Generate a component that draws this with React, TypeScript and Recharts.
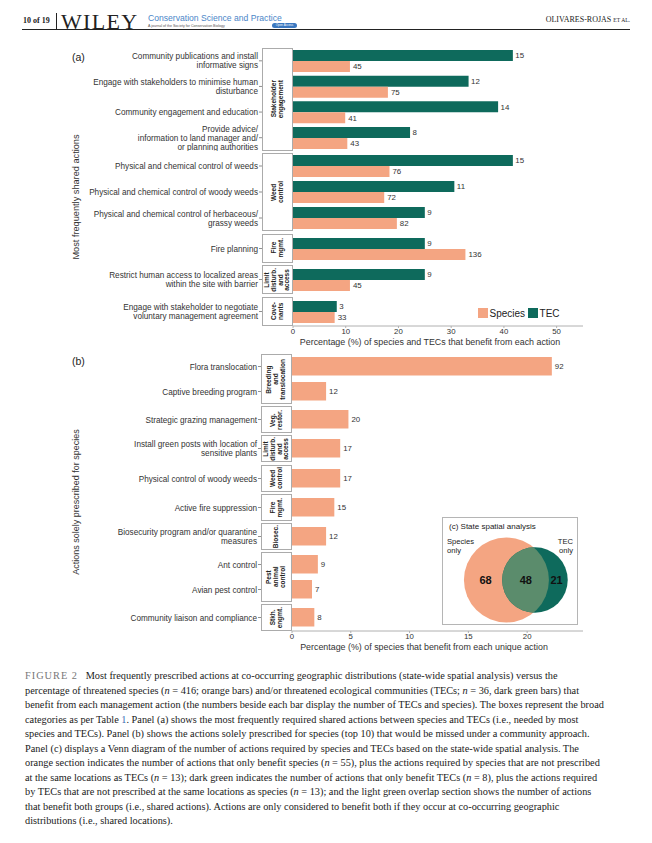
import React from 'react';
import { BarChart, Bar, XAxis, YAxis, LabelList, Legend, ScatterChart, Scatter, ZAxis } from 'recharts';

const SPECIES = '#F4A582';
const TEC = '#0E6A5C';
const OVERLAP = '#5B8C6C';
const SANS = '"Liberation Sans", Arial, sans-serif';
const SERIF = '"Liberation Serif", "Times New Roman", serif';

// (a) most frequently shared actions
const sharedActions = [
  'Community publications and install\ninformative signs',
  'Engage with stakeholders to minimise human\ndisturbance',
  'Community engagement and education',
  'Provide advice/\ninformation to land manager and/\nor planning authorities',
  'Physical and chemical control of weeds',
  'Physical and chemical control of woody weeds',
  'Physical and chemical control of herbaceous/\ngrassy weeds',
  'Fire planning',
  'Restrict human access to localized areas\nwithin the site with barrier',
  'Engage with stakeholder to negotiate\nvoluntary management agreement',
];
const sharedGroup = [0, 0, 0, 0, 1, 1, 1, 2, 3, 4];
const sharedFacets = ['Stakeholder\nengagement', 'Weed\ncontrol', 'Fire\nmgmt.', 'Limit\ndisturb.\nand\naccess', 'Cove-\nnants'];
const tecCount = [15, 12, 14, 8, 15, 11, 9, 9, 9, 3];
const tecPct = [41.7, 33.3, 38.9, 22.2, 41.7, 30.6, 25.0, 25.0, 25.0, 8.3];
const speciesCount = [45, 75, 41, 43, 76, 72, 82, 136, 45, 33];
const speciesPct = [10.8, 18.0, 9.9, 10.3, 18.3, 17.3, 19.7, 32.7, 10.8, 7.9];
const sharedTicks = [0, 10, 20, 30, 40, 50];

// (b) actions solely prescribed for species
const uniqueActions = [
  'Flora translocation',
  'Captive breeding program',
  'Strategic grazing management',
  'Install green posts with location of\nsensitive plants',
  'Physical control of woody weeds',
  'Active fire suppression',
  'Biosecurity program and/or quarantine\nmeasures',
  'Ant control',
  'Avian pest control',
  'Community liaison and compliance',
];
const uniqueGroup = [0, 0, 1, 2, 3, 4, 5, 6, 6, 7];
const uniqueFacets = [
  'Breeding\nand\ntranslocation', 'Veg.\nrestor.', 'Limit\ndisturb.\nand\naccess', 'Weed\ncontrol',
  'Fire\nmgmt.', 'Biosec.', 'Pest\nanimal\ncontrol', 'Stkh.\nengmt.',
];
const uniqueCount = [92, 12, 20, 17, 17, 15, 12, 9, 7, 8];
const uniquePct = [22.1, 2.9, 4.8, 4.1, 4.1, 3.6, 2.9, 2.2, 1.7, 1.9];
const uniqueTicks = [0, 5, 10, 15, 20];

// (c) venn
const vennSets = ['Species', 'TEC'];
const vennTotals = [116, 69];
const vennRegions = [68, 48, 21];

const legendItems = [
  { name: 'Species', color: SPECIES },
  { name: 'TEC', color: TEC },
];

type Row = { action: string; sp: number; spN: number; tec?: number; tecN?: number };

const sharedRows: Row[] = sharedActions.map((action, i) => ({
  action, tec: tecPct[i], tecN: tecCount[i], sp: speciesPct[i], spN: speciesCount[i],
}));
const uniqueRows: Row[] = uniqueActions.map((action, i) => ({ action, sp: uniquePct[i], spN: uniqueCount[i] }));

function T({ x, y, children, size = 7.6, anchor = 'start', style = {} }: any) {
  const tx = anchor === 'middle' ? '-50%' : anchor === 'end' ? '-100%' : '0';
  return (
    <div style={{ position: 'absolute', left: x, top: y, transform: `translate(${tx}, -50%)`, fontSize: size,
      lineHeight: 1.15, whiteSpace: 'pre', color: '#222', ...style }}>
      {children}
    </div>
  );
}

const ActionTick = (props: any) => {
  const { x, y, payload } = props;
  const lines = String(payload.value).split('\n');
  const lh = 9;
  const tx = x - 35;
  return (
    <g>
      <line x1={x - 34} x2={x - 31} y1={y} y2={y} stroke="#444" strokeWidth={0.6} />
      <text x={tx} y={y - ((lines.length - 1) * lh) / 2} textAnchor="end" dominantBaseline="central"
        fontSize={8.2} fill="#333" fontFamily={SANS}>
        {lines.map((l, i) => (
          <tspan key={i} x={tx} dy={i === 0 ? 0 : lh}>{l}</tspan>
        ))}
      </text>
    </g>
  );
};

const LegendContent = () => (
  <div style={{ display: 'flex', alignItems: 'center', fontSize: 10, color: '#222', fontFamily: SANS }}>
    {legendItems.map((it) => (
      <span key={it.name} style={{ display: 'flex', alignItems: 'center', marginRight: 3 }}>
        <span style={{ width: 9.5, height: 10, background: it.color, display: 'inline-block', marginRight: 2 }} />
        {it.name}
      </span>
    ))}
  </div>
);

function layoutFacets(groups: number[], nFacets: number, top0: number, pitch: number, pad: number, gap: number) {
  const out: { top: number; height: number; idx: number[] }[] = [];
  let top = top0;
  for (let f = 0; f < nFacets; f++) {
    const idx = groups.map((g, i) => (g === f ? i : -1)).filter((i) => i >= 0);
    const height = pitch * idx.length + pad;
    out.push({ top, height, idx });
    top += height + gap;
  }
  return out;
}

const CHART_LEFT = 80;
const CHART_W = 503;

function Facet(props: {
  rows: Row[]; strip: string; top: number; height: number; withTec: boolean; domain: [number, number];
  ticks: number[]; yWidth: number; barSize: number; axis: boolean; legend?: boolean;
}) {
  const { rows, strip, top, height, withTec, domain, ticks, yWidth, barSize, axis, legend } = props;
  const axisH = axis ? 14 : 0;
  const labelStyle = { fontSize: 7.9, fill: '#333', fontFamily: SANS };
  return (
    <>
      <div style={{ position: 'absolute', left: CHART_LEFT + yWidth - 31, top, width: 31, height, boxSizing: 'border-box',
        border: '1px solid #ababab', background: '#fff', display: 'flex', alignItems: 'center', justifyContent: 'center' }}>
        <div style={{ writingMode: 'vertical-rl', transform: 'rotate(180deg)', whiteSpace: 'pre', textAlign: 'center',
          fontSize: 6.5, fontWeight: 700, lineHeight: 1.05, color: '#222' }}>{strip}</div>
      </div>
      <div style={{ position: 'absolute', left: CHART_LEFT, top }}>
        <BarChart layout="vertical" width={CHART_W} height={height + axisH} data={rows}
          margin={{ top: 0, right: 0, bottom: 0, left: 0 }} barGap={0}>
          <XAxis type="number" domain={domain} ticks={ticks} hide={!axis} height={axisH} allowDataOverflow
            tick={{ fontSize: 7.8, fill: '#333', fontFamily: SANS }} tickSize={2} tickMargin={0}
            axisLine={{ stroke: '#b0b0b0' }} tickLine={{ stroke: '#b0b0b0' }} />
          <YAxis type="category" dataKey="action" width={yWidth} tick={<ActionTick />} tickSize={0} tickMargin={0}
            axisLine={false} tickLine={false} interval={0} />
          {withTec && (
            <Bar dataKey="tec" fill={TEC} barSize={barSize} isAnimationActive={false}>
              <LabelList dataKey="tecN" position="right" offset={2.5} {...labelStyle} />
            </Bar>
          )}
          <Bar dataKey="sp" fill={SPECIES} barSize={barSize} isAnimationActive={false}>
            <LabelList dataKey="spN" position="right" offset={3} {...labelStyle} />
          </Bar>
          {legend && (
            <Legend layout="vertical" verticalAlign="middle" align="center" content={<LegendContent />}
              wrapperStyle={{ position: 'absolute', left: 398, top: 11, width: 'auto' }} />
          )}
        </BarChart>
      </div>
    </>
  );
}

const VennShape = (p: any) => {
  const r = p.size ? Math.sqrt(p.size / Math.PI) : (p.width || 0) / 2;
  if (p.payload.name === 'Species') {
    return (
      <g>
        <defs>
          <clipPath id="speciesClip"><circle cx={p.cx} cy={p.cy} r={r} /></clipPath>
        </defs>
        <circle cx={p.cx} cy={p.cy} r={r} fill={SPECIES} />
      </g>
    );
  }
  return (
    <g>
      <circle cx={p.cx} cy={p.cy} r={r} fill={TEC} />
      <circle cx={p.cx} cy={p.cy} r={r} fill={OVERLAP} clipPath="url(#speciesClip)" />
    </g>
  );
};

const VennLabel = (p: any) => (
  <text x={p.cx} y={p.cy} textAnchor="middle" dominantBaseline="central" fontSize={11} fontWeight={700}
    fill="#111" fontFamily={SANS}>{p.payload.value}</text>
);

function Venn() {
  const vennData = vennSets.map((name, i) => ({ name, x: i, y: 0, total: vennTotals[i] }));
  const labelX = [-0.73, 0.68, 1.76];
  const vennLabels = vennRegions.map((value, i) => ({ value, x: labelX[i], y: 0 }));
  return (
    <div style={{ position: 'absolute', left: 442, top: 517, width: 136, height: 108, background: '#fff' }}>
      <ScatterChart width={136} height={108} margin={{ top: 18, right: 0, bottom: 0, left: 0 }}>
        <XAxis type="number" dataKey="x" domain={[-2.26, 2.51]} hide />
        <YAxis type="number" dataKey="y" domain={[-1, 1]} hide />
        <ZAxis type="number" dataKey="total" domain={[0, 116]} range={[0, 5675]} />
        <Scatter data={vennData} shape={VennShape} isAnimationActive={false} />
        <Scatter data={vennLabels} shape={VennLabel} isAnimationActive={false} />
      </ScatterChart>
      <div style={{ position: 'absolute', inset: 0, border: '1px solid #b5b5b5', pointerEvents: 'none' }} />
      <T x={7} y={10} size={8}>(c) State spatial analysis</T>
      <T x={5} y={30} size={7.6}>{'Species\nonly'}</T>
      <T x={131} y={30} size={7.6} anchor="end" style={{ textAlign: 'right' }}>{'TEC\nonly'}</T>
    </div>
  );
}

const captionLines: React.ReactNode[] = [
  <><span style={{ color: '#777', letterSpacing: 1 }}>FIGURE 2</span>{'   '}Most frequently prescribed actions at co-occurring geographic distributions (state-wide spatial analysis) versus the</>,
  <>percentage of threatened species (<i>n</i> = 416; orange bars) and/or threatened ecological communities (TECs; <i>n</i> = 36, dark green bars) that</>,
  <>benefit from each management action (the numbers beside each bar display the number of TECs and species). The boxes represent the broad</>,
  <>categories as per Table <span style={{ color: '#3a6fb5' }}>1</span>. Panel (a) shows the most frequently required shared actions between species and TECs (i.e., needed by most</>,
  <>species and TECs). Panel (b) shows the actions solely prescribed for species (top 10) that would be missed under a community approach.</>,
  <>Panel (c) displays a Venn diagram of the number of actions required by species and TECs based on the state-wide spatial analysis. The</>,
  <>orange section indicates the number of actions that only benefit species (<i>n</i> = 55), plus the actions required by species that are not prescribed</>,
  <>at the same locations as TECs (<i>n</i> = 13); dark green indicates the number of actions that only benefit TECs (<i>n</i> = 8), plus the actions required</>,
  <>by TECs that are not prescribed at the same locations as species (<i>n</i> = 13); and the light green overlap section shows the number of actions</>,
  <>that benefit both groups (i.e., shared actions). Actions are only considered to benefit both if they occur at co-occurring geographic</>,
  <>distributions (i.e., shared locations).</>,
];

export default function App() {
  const aLayout = layoutFacets(sharedGroup, sharedFacets.length, 48, 24.5, 4.5, 2.5);
  const bLayout = layoutFacets(uniqueGroup, uniqueFacets.length, 354, 23, 4, 2.2);
  return (
    <div style={{ position: 'relative', width: 652, height: 843, margin: -8, background: '#fff', overflow: 'hidden', fontFamily: SANS }}>
      {/* page header */}
      <T x={23} y={21} size={8} style={{ fontFamily: SERIF, fontWeight: 700 }}>10 of 19</T>
      <div style={{ position: 'absolute', left: 56, top: 13, width: 1, height: 16, background: '#222' }} />
      <div style={{ position: 'absolute', left: 22, top: 29, width: 608, height: 1, background: '#222' }} />
      <div style={{ position: 'absolute', left: 61, top: 10.5, fontFamily: SERIF, fontSize: 22, lineHeight: 1, letterSpacing: 1.3, color: '#222' }}>WILEY</div>
      <T x={148} y={18.5} size={8.6} style={{ color: '#4a86c8' }}>Conservation Science and Practice</T>
      <T x={148} y={25.5} size={3.6} style={{ color: '#555' }}>A journal of the Society for Conservation Biology</T>
      <div style={{ position: 'absolute', left: 272, top: 22.5, width: 25, height: 5, background: '#3b78c0', borderRadius: 3, color: '#fff',
        fontSize: 3, lineHeight: '5px', textAlign: 'center' }}>Open Access</div>
      <T x={630} y={20} size={8} anchor="end" style={{ fontFamily: SERIF }}>OLIVARES-ROJAS <span style={{ fontSize: 5.6 }}>ET AL.</span></T>

      {/* panel (a) */}
      <T x={72} y={56.5} size={10.5}>(a)</T>
      <T x={76} y={197} size={9.2} anchor="middle" style={{ transform: 'translate(-50%, -50%) rotate(-90deg)', color: '#333' }}>Most frequently shared actions</T>
      {aLayout.map((f, i) => (
        <Facet key={i} rows={f.idx.map((k) => sharedRows[k])} strip={sharedFacets[i]} top={f.top} height={f.height}
          withTec domain={[0, 55]} ticks={sharedTicks} yWidth={213} barSize={11}
          axis={i === aLayout.length - 1} legend={i === aLayout.length - 1} />
      ))}
      <T x={430} y={342} size={8.9} anchor="middle" style={{ color: '#333' }}>Percentage (%) of species and TECs that benefit from each action</T>

      {/* panel (b) */}
      <T x={72} y={360.5} size={10.5}>(b)</T>
      <T x={76} y={502} size={9} anchor="middle" style={{ transform: 'translate(-50%, -50%) rotate(-90deg)', color: '#333' }}>Actions solely prescribed for species</T>
      {bLayout.map((f, i) => (
        <Facet key={i} rows={f.idx.map((k) => uniqueRows[k])} strip={uniqueFacets[i]} top={f.top} height={f.height}
          withTec={false} domain={[0, 24.75]} ticks={uniqueTicks} yWidth={212} barSize={18.5}
          axis={i === bLayout.length - 1} />
      ))}
      <T x={424} y={647} size={8.9} anchor="middle" style={{ color: '#333' }}>Percentage (%) of species that benefit from each unique action</T>

      {/* panel (c) */}
      <Venn />

      {/* caption */}
      {captionLines.map((line, i) => (
        <T key={i} x={25} y={676 + i * 14.5} size={10.3} style={{ fontFamily: SERIF, color: '#1a1a1a' }}>{line}</T>
      ))}
    </div>
  );
}
